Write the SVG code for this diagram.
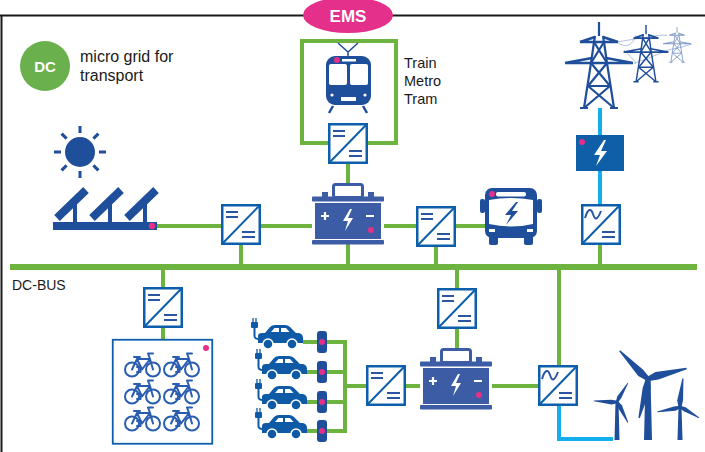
<svg xmlns="http://www.w3.org/2000/svg" width="705" height="452" viewBox="0 0 705 452">
  <style>
    .wire { stroke: #6cb33f; stroke-width: 4; fill: none; }
    .ac { stroke: #14aeee; stroke-width: 4; fill: none; }
    .ink { fill: #1f4e9b; }
    .lbl { font-family: "Liberation Sans", Arial, sans-serif; fill: #1a1a1a; }
    .pink { fill: #e4308a; }
  </style>
  <defs>
    <!-- DC/DC converter block -->
    <g id="dcdc">
      <rect x="1.25" y="1.25" width="37.5" height="38.5" fill="#fff" stroke="#0d5eab" stroke-width="2.5"/>
      <line x1="1.25" y1="39.75" x2="38.75" y2="1.25" stroke="#0d5eab" stroke-width="2"/>
      <path d="M5 8h12M5 13h12M21 28h13M21 33h13" stroke="#2a55a0" stroke-width="2.2" fill="none"/>
    </g>
    <!-- AC/DC converter block -->
    <g id="acdc">
      <rect x="1.25" y="1.25" width="37.5" height="38.5" fill="#fff" stroke="#0d5eab" stroke-width="2.5"/>
      <line x1="1.25" y1="39.75" x2="38.75" y2="1.25" stroke="#0d5eab" stroke-width="2"/>
      <path d="M4 14C7 4 10 4 12 10S16 17 20 7" stroke="#2a55a0" stroke-width="2" fill="none"/>
      <path d="M21 28h13M21 33h13" stroke="#2a55a0" stroke-width="2.2" fill="none"/>
    </g>
    <!-- storage battery -->
    <g id="battery">
      <rect x="21.5" y="1.5" width="29" height="13" rx="2" fill="#fff" stroke="#3c5da6" stroke-width="3"/>
      <rect x="10" y="9" width="6" height="5" fill="#3c5da6"/>
      <rect x="56" y="9" width="6" height="5" fill="#3c5da6"/>
      <rect x="0" y="13.5" width="72" height="5" rx="1" fill="#3c5da6"/>
      <rect x="3" y="20" width="66" height="36" fill="#3c5da6"/>
      <rect x="0" y="57" width="72" height="4.5" rx="1" fill="#3c5da6"/>
      <path d="M9 33h8M13 29v8M54 33h8" stroke="#fff" stroke-width="2.2"/>
      <path d="M38 26L31 38L36 38L33 48L41 35L36 35L40 26Z" fill="#fff"/>
      <circle cx="59" cy="47" r="3" class="pink"/>
    </g>
    <!-- electric car with plug -->
    <g id="car">
      <path d="M3 0v4M6 0v4" stroke="#0e5aa7" stroke-width="1.3"/>
      <rect x="1" y="4" width="7" height="6" rx="1" fill="#0e5aa7"/>
      <path d="M4.5 10V18Q4.5 21 9 21" stroke="#0e5aa7" stroke-width="2" fill="none"/>
      <path d="M8 25L8 18Q8 15 12 15L15 15L20 9Q22 7 25 7L35 7Q38 7 40 9L46 15L49 15Q53 16 53 20L53 25Z" fill="#0e5aa7"/>
      <path d="M21 14L24.5 10L29 10L29 14Z M31 10L36 10L39.5 14L31 14Z" fill="#fff"/>
      <circle cx="18" cy="26" r="5" fill="#0e5aa7" stroke="#fff" stroke-width="1.5"/>
      <circle cx="42" cy="26" r="5" fill="#0e5aa7" stroke="#fff" stroke-width="1.5"/>
    </g>
    <!-- charging post -->
    <g id="post">
      <rect x="-5" y="-11" width="10" height="22" rx="3" fill="#1f4e9b"/>
      <circle cx="0" cy="0" r="3" class="pink"/>
    </g>
    <!-- e-bike -->
    <g id="bike" fill="none" stroke="#2a5db0" stroke-width="2" stroke-linecap="round" stroke-linejoin="round">
      <circle cx="8" cy="16.5" r="7"/>
      <circle cx="29" cy="16.5" r="7"/>
      <path d="M8 16.5L13 6L26 6L29 16.5M13 6L18 16.5L26 6M10 4h6M26 6L24 0.5L29 0.5"/>
      <path d="M13 14h3.5v5h-3.5"/>
    </g>
    <!-- transmission pylon, apex at origin -->
    <g id="pylon" fill="none" stroke="#1f4e9b" stroke-width="2.2">
      <path d="M0 0V14M-4 14L-5 20L-8 41L-15 86M4 14L5 20L8 41L15 86"/>
      <path d="M-19 20H19M-34 41H34M-19 20L-4 15M19 20L4 15M-34 41L-7 36M34 41L7 36" stroke-width="2.6"/>
      <path d="M-5 20L8 41M5 20L-8 41M-8 41L11 64M8 41L-11 64M-11 64L15 86M11 64L-15 86M-11 64H11M-19 86H-11M11 86H19"/>
    </g>
    <!-- rotor blade pointing up from hub -->
    <path id="blade" d="M-2 1L-4.8 -9L-0.8 -40L0.6 -40L3.2 -10L2 1Z" fill="#1f4e9b"/>
  </defs>

  <!-- outer frame -->
  <path d="M0 15.5H705M1.5 15V452" stroke="#1a1a1a" stroke-width="2" fill="none"/>

  <!-- connectors -->
  <g id="connectors">
    <rect x="10" y="264" width="687" height="6" fill="#6cb33f"/>
    <rect x="302" y="41" width="94" height="102" class="wire"/>
    <path class="wire" d="M157 226H221M261 226H312M384 226H416M456 226H487"/>
    <path class="wire" d="M241 244V266M348 244V266M436 246V266M600 244V266M348 163V183"/>
    <path class="wire" d="M163 268V287M163 327V339M457 268V288M457 328V348M559 268V365"/>
    <path class="wire" d="M303 342H345M307 372H345M307 402H345M307 431H345M345 340V433M345 386H366M405 386H420M492 386H538"/>
    <path class="ac" d="M600 108V135M600 170V204M559 405V439H613"/>
  </g>

  <!-- title badge -->
  <g id="legend">
    <circle cx="45" cy="66" r="25" fill="#6ab04c"/>
    <text x="45" y="71.5" text-anchor="middle" font-family="Liberation Sans, Arial, sans-serif" font-size="15" font-weight="bold" fill="#fff">DC</text>
    <text class="lbl" x="80" y="62" font-size="16">micro grid for</text>
    <text class="lbl" x="80" y="81" font-size="16">transport</text>
  </g>

  <!-- energy management system -->
  <g id="ems">
    <ellipse cx="348" cy="15" rx="45" ry="18" fill="#e4308a"/>
    <text x="348" y="21.5" text-anchor="middle" font-family="Liberation Sans, Arial, sans-serif" font-size="17" font-weight="bold" fill="#fff">EMS</text>
  </g>

  <!-- sun -->
  <g id="sun" stroke="#1f4e9b" stroke-width="3">
    <circle cx="80" cy="152" r="15" fill="#1f4e9b" stroke="none"/>
    <path d="M80 126V133M80 171V178M54 152H61M99 152H106M61.6 133.6L66.6 138.6M93.4 165.4L98.4 170.4M61.6 170.4L66.6 165.4M93.4 138.6L98.4 133.6"/>
  </g>

  <!-- photovoltaic array -->
  <g id="pv" class="ink">
    <rect x="53" y="222" width="104" height="8"/>
    <path d="M57 218L86 190M92 218L121 190M127 218L156 190" stroke="#1f4e9b" stroke-width="8" fill="none"/>
    <rect x="73" y="200" width="4" height="22"/>
    <rect x="108" y="200" width="4" height="22"/>
    <rect x="143" y="200" width="4" height="22"/>
    <circle cx="152" cy="226" r="3.2" class="pink"/>
  </g>

  <!-- converters -->
  <use id="conv-pv" href="#dcdc" x="221" y="204"/>
  <use id="conv-train" href="#dcdc" x="328" y="123"/>
  <use id="conv-bus" href="#dcdc" x="416" y="206"/>
  <use id="conv-grid" href="#acdc" x="581" y="204"/>
  <use id="conv-bike" href="#dcdc" x="143" y="287"/>
  <use id="conv-store" href="#dcdc" x="437" y="288"/>
  <use id="conv-cars" href="#dcdc" x="366" y="365"/>
  <use id="conv-wind" href="#acdc" x="538" y="365"/>

  <!-- batteries -->
  <use id="battery-top" href="#battery" x="312" y="183"/>
  <use id="battery-bottom" href="#battery" x="420" y="348"/>

  <!-- train / metro / tram -->
  <g id="train">
    <path d="M338 43L348 52L358 43M348 52V56" stroke="#1f4e9b" stroke-width="1.5" fill="none"/>
    <rect x="326" y="56" width="45" height="49" rx="9" fill="#1f4e9b"/>
    <rect x="342" y="59" width="14" height="2.5" fill="#fff"/>
    <rect x="329" y="64" width="18" height="21" rx="2" fill="#fff"/>
    <rect x="350" y="64" width="18" height="21" rx="2" fill="#fff"/>
    <rect x="341" y="97" width="15" height="4" fill="#fff"/>
    <circle cx="332" cy="95" r="1.6" fill="#fff"/>
    <circle cx="365" cy="95" r="1.6" fill="#fff"/>
    <circle cx="337" cy="60" r="3" class="pink"/>
    <path d="M333 106L329 113M363 106L367 113" stroke="#1f4e9b" stroke-width="2.5"/>
    <text class="lbl" x="404" y="68" font-size="14.5">Train</text>
    <text class="lbl" x="404" y="86" font-size="14.5">Metro</text>
    <text class="lbl" x="404" y="104" font-size="14.5">Tram</text>
  </g>

  <!-- electric bus -->
  <g id="ebus">
    <rect x="480" y="199" width="5" height="14" rx="2" fill="#1f4e9b"/>
    <rect x="537" y="199" width="5" height="14" rx="2" fill="#1f4e9b"/>
    <rect x="485" y="188" width="52" height="50" rx="7" fill="#1f4e9b"/>
    <rect x="496" y="192" width="30" height="4.5" rx="2" fill="#fff"/>
    <circle cx="492" cy="194" r="3" class="pink"/>
    <path d="M489 200Q511 196 533 200L533 224Q511 229 489 224Z" fill="#fff"/>
    <path d="M516 202L505 215L511 215L506 225L518 211L512 211L518 202Z" fill="#1f4e9b"/>
    <rect x="489" y="229" width="6" height="3" fill="#fff"/>
    <rect x="527" y="229" width="6" height="3" fill="#fff"/>
    <rect x="489" y="236" width="9" height="9" rx="2" fill="#1f4e9b"/>
    <rect x="524" y="236" width="9" height="9" rx="2" fill="#1f4e9b"/>
  </g>

  <!-- public grid -->
  <g id="grid">
    <path d="M617 42Q630 52 636 35M634 63Q640 66 624 50M617 42Q640 38 661 35M635 63Q650 58 668 50M661 35Q670 36 665 35M668 50Q680 48 692 44" stroke="#9fb3dc" stroke-width="0.8" fill="none"/>
    <use href="#pylon" transform="translate(677 27) scale(0.41)" opacity="0.55"/>
    <use href="#pylon" transform="translate(646 25) scale(0.66)"/>
    <use href="#pylon" transform="translate(599 22)"/>
  </g>

  <!-- grid connection point -->
  <g id="grid-meter">
    <rect x="576" y="135" width="48" height="36" fill="#0f5ea8"/>
    <path d="M604 140L594 155L600 155L596 166L607 151L601 151L606 140Z" fill="#fff"/>
    <circle cx="582" cy="142" r="3" class="pink"/>
  </g>

  <!-- bike charging station -->
  <g id="bikes">
    <rect x="112.75" y="339.75" width="99.5" height="104" fill="#fff" stroke="#0d5eab" stroke-width="1.8"/>
    <circle cx="206" cy="348" r="3" class="pink"/>
    <use href="#bike" x="124" y="353"/>
    <use href="#bike" x="163" y="353"/>
    <use href="#bike" x="124" y="380"/>
    <use href="#bike" x="163" y="380"/>
    <use href="#bike" x="124" y="407"/>
    <use href="#bike" x="163" y="407"/>
  </g>

  <!-- car charging -->
  <g id="cars">
    <use href="#car" x="250" y="318"/>
    <use href="#car" x="254" y="349"/>
    <use href="#car" x="254" y="379"/>
    <use href="#car" x="254" y="408"/>
    <use href="#post" x="322" y="342"/>
    <use href="#post" x="322" y="372"/>
    <use href="#post" x="322" y="402"/>
    <use href="#post" x="322" y="431"/>
  </g>

  <!-- wind farm -->
  <g id="wind">
    <path d="M615.5 402L618.5 402L619.5 440L614.5 440Z" fill="#1f4e9b"/>
    <use href="#blade" transform="translate(617 402) rotate(-87) scale(0.58)"/>
    <use href="#blade" transform="translate(617 402) rotate(30) scale(0.55)"/>
    <use href="#blade" transform="translate(617 402) rotate(152) scale(0.58)"/>
    <path d="M645.5 379L650.5 379L652 440L644 440Z" fill="#1f4e9b"/>
    <use href="#blade" transform="translate(648 379) rotate(-45)"/>
    <use href="#blade" transform="translate(648 379) rotate(75)"/>
    <use href="#blade" transform="translate(648 379) rotate(193)"/>
    <path d="M678.5 407L681.5 407L682.5 440L677.5 440Z" fill="#1f4e9b"/>
    <use href="#blade" transform="translate(680 407) rotate(6) scale(0.72)"/>
    <use href="#blade" transform="translate(680 407) rotate(120) scale(0.55)"/>
    <use href="#blade" transform="translate(680 407) rotate(-102) scale(0.58)"/>
  </g>

  <text class="lbl" x="12" y="290" font-size="14">DC-BUS</text>
</svg>
